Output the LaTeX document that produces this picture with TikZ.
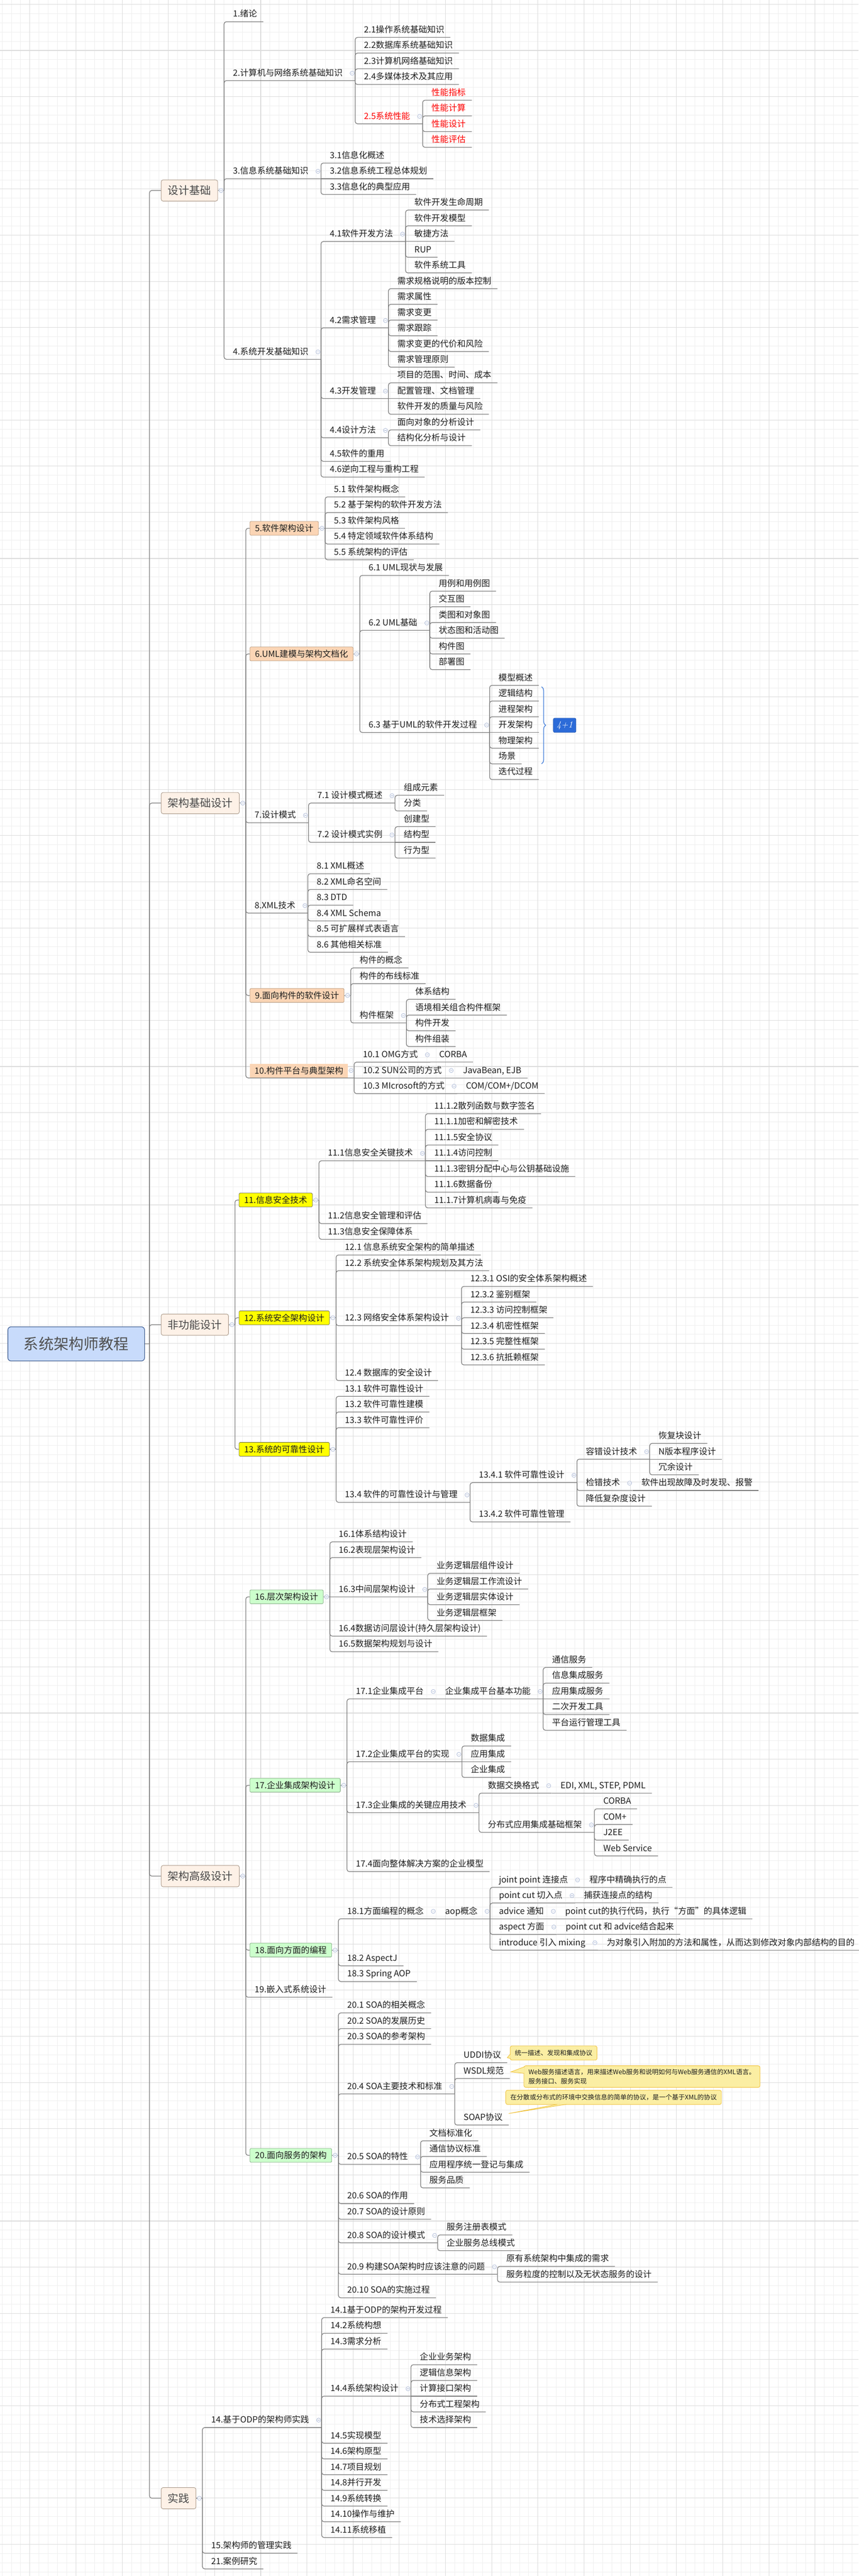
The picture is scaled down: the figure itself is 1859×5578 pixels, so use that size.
\documentclass[tikz,border=0pt]{standalone}
\usepackage{fontspec}
\newfontfamily\cjk{Noto Sans CJK SC}
\usetikzlibrary{calc,decorations.pathreplacing}
\definecolor{lnc}{HTML}{7D7D7D}
\definecolor{txc}{HTML}{1E1E1E}
\definecolor{gmn}{HTML}{EFEFEF}
\definecolor{gmj}{HTML}{DCDCDC}
\definecolor{rtf}{HTML}{C8DBFB}
\definecolor{rtd}{HTML}{33548C}
\definecolor{rtt}{HTML}{505050}
\definecolor{l1f}{HTML}{FDF1E7}
\definecolor{l1d}{HTML}{A89686}
\definecolor{l1t}{HTML}{4A4A4A}
\definecolor{pcf}{HTML}{FBD5B5}
\definecolor{pcd}{HTML}{B7987C}
\definecolor{ylf}{HTML}{FFFF00}
\definecolor{yld}{HTML}{6E6E50}
\definecolor{gnf}{HTML}{CCFFCC}
\definecolor{gnd}{HTML}{80A880}
\definecolor{ntf}{HTML}{FBEEA3}
\definecolor{ntd}{HTML}{F0C23E}
\definecolor{blf}{HTML}{2C6BD8}
\definecolor{brc}{HTML}{3A78D8}
\definecolor{cic}{HTML}{A6B4D3}
\definecolor{redt}{HTML}{FF0000}
\tikzset{
 cn/.style={draw=lnc, line width=1.4pt, rounded corners=5pt},
 tp/.style={anchor=south west, inner xsep=0pt, inner ysep=0pt, text height=15pt, text depth=10pt,
   font=\cjk\fontsize{18.5}{22}\selectfont, text=txc, execute at begin node={\hspace*{19pt}}},
 lf/.style={tp, execute at end node={\hspace*{13pt}}},
 pr/.style={tp, execute at end node={\hspace*{27pt}}},
 rt/.style={draw=rtd, fill=rtf, line width=1.2pt, rounded corners=7pt, minimum width=296pt, minimum height=74pt,
   font=\cjk\fontsize{32.5}{36}\selectfont, text=rtt},
 l1/.style={draw=l1d, fill=l1f, line width=1pt, rounded corners=4pt, inner xsep=14pt, minimum height=46pt,
   font=\cjk\fontsize{23.5}{26}\selectfont, text=l1t},
 bxs/.style={line width=0.9pt, rounded corners=2pt, inner xsep=11pt, inner ysep=0pt, minimum height=30pt,
   font=\cjk\fontsize{18.5}{22}\selectfont, text=txc},
 pch/.style={bxs, fill=pcf, draw=pcd},
 yel/.style={bxs, fill=ylf, draw=yld},
 grn/.style={bxs, fill=gnf, draw=gnd},
 pcn/.style={bxs, fill=pcf, rounded corners=0pt, inner xsep=10pt},
 ccl/.style={draw=cic, fill=white, line width=0.8pt},
 nt/.style={fill=ntf, draw=ntd, line width=1pt, rounded corners=4pt, inner xsep=10pt, inner ysep=7pt,
   minimum height=31pt, font=\cjk\fontsize{14}{20}\selectfont, text=txc, align=left},
 fbx/.style={fill=blf, draw=blf!80!black, line width=0.8pt, rounded corners=3pt, minimum width=49pt,
   minimum height=31pt, text=white, font=\rmfamily\itshape\fontsize{20}{22}\selectfont},
 gline/.style={draw=gmn, line width=1pt},
 gmaj/.style={draw=gmj, line width=1.2pt}
}
\newcommand\Tc[5][lf]{\node[#1] (#2) at (#3 |- 0,#4) {#5};\draw[cn] (#3) |- (#2.south east);}
\newcommand\Ts[4][lf]{\node[#1] (#2) at (#3) {#4};\draw[cn] (#3) -- (#2.south east);}
\newcommand\Cu[1]{\draw[ccl] ($(#1.south east)+(-6.5,-16)$) circle[radius=4.5pt] ++(-2.6,0) -- ++(5.2,0);}
\newcommand\Cb[1]{\draw[ccl] ($(#1.east)+(7,0)$) circle[radius=4.5pt] ++(-2.6,0) -- ++(5.2,0);}
\newcommand\Lo[3]{\path (jR |- 0,#2) ++(25,0) node[l1,anchor=west] (#1) {#3};
  \draw[cn] (jR) |- (#1.west);\path (#1.east) ++(13.5,0) coordinate (j#1);\draw[cn] (#1.east) -- (j#1);\Cb{#1}}
\newcommand\Bx[5]{\path (#3 |- 0,#4) ++(8.5,0) node[#1,anchor=west] (#2) {#5};
  \draw[cn] (#3) |- (#2.west);\path (#2.east) ++(14,0) coordinate (j#2);\draw[cn] (#2.east) -- (j#2);\Cb{#2}}
\newcommand\Wg[3]{\fill[ntf] #1 -- #2 -- #3 -- cycle;\draw[ntd,line width=1pt] #1 -- #2 -- #3;}
\begin{document}
\begin{tikzpicture}[x=1pt,y=-1pt]
\useasboundingbox (0,0) rectangle (1859,5578);
\fill[white] (0,0) rectangle (1859,5578);
\foreach \x in {4.5,24.5,...,1859} {\draw[gline] (\x,0) -- (\x,5578);}
\foreach \y in {9.3,29.3,...,5578} {\draw[gline] (0,\y) -- (1859,\y);}
\foreach \x in {64.5,164.5,...,1859} {\draw[gmaj] (\x,0) -- (\x,5578);}
\foreach \y in {9.3,109.3,...,5578} {\draw[gmaj] (0,\y) -- (1859,\y);}

% root
\node[rt] (R) at (165,2910) {系统架构师教程};
\path (R.east) ++(10,0) coordinate (jR);
\draw[cn] (R.east) -- (jR);

% ===== 设计基础 =====
\Lo{A}{412.5}{设计基础}
\Tc{a1}{jA}{47}{1.绪论}
\Tc[pr]{a2}{jA}{174.5}{2.计算机与网络系统基础知识}\Cu{a2}
\Tc{a21}{a2.south east}{81}{2.1操作系统基础知识}
\Tc{a22}{a2.south east}{115}{2.2数据库系统基础知识}
\Tc{a23}{a2.south east}{149}{2.3计算机网络基础知识}
\Tc{a24}{a2.south east}{183}{2.4多媒体技术及其应用}
\Tc[pr,text=redt]{a25}{a2.south east}{268}{2.5系统性能}\Cu{a25}
\Tc[lf,text=redt]{a251}{a25.south east}{217}{性能指标}
\Tc[lf,text=redt]{a252}{a25.south east}{251}{性能计算}
\Tc[lf,text=redt]{a253}{a25.south east}{285}{性能设计}
\Tc[lf,text=redt]{a254}{a25.south east}{319}{性能评估}
\Tc[pr]{a3}{jA}{387}{3.信息系统基础知识}\Cu{a3}
\Tc{a31}{a3.south east}{353}{3.1信息化概述}
\Ts{a32}{a3.south east}{3.2信息系统工程总体规划}
\Tc{a33}{a3.south east}{421}{3.3信息化的典型应用}
\Tc[pr]{a4}{jA}{778}{4.系统开发基础知识}\Cu{a4}
\Tc[pr]{a41}{a4.south east}{523}{4.1软件开发方法}\Cu{a41}
\Tc{a411}{a41.south east}{455}{软件开发生命周期}
\Tc{a412}{a41.south east}{489}{软件开发模型}
\Ts{a413}{a41.south east}{敏捷方法}
\Tc{a414}{a41.south east}{557}{RUP}
\Tc{a415}{a41.south east}{591}{软件系统工具}
\Tc[pr]{a42}{a4.south east}{710}{4.2需求管理}\Cu{a42}
\Tc{a421}{a42.south east}{625}{需求规格说明的版本控制}
\Tc{a422}{a42.south east}{659}{需求属性}
\Tc{a423}{a42.south east}{693}{需求变更}
\Tc{a424}{a42.south east}{727}{需求跟踪}
\Tc{a425}{a42.south east}{761}{需求变更的代价和风险}
\Tc{a426}{a42.south east}{795}{需求管理原则}
\Tc[pr]{a43}{a4.south east}{863}{4.3开发管理}\Cu{a43}
\Tc{a431}{a43.south east}{829}{项目的范围、时间、成本}
\Ts{a432}{a43.south east}{配置管理、文档管理}
\Tc{a433}{a43.south east}{897}{软件开发的质量与风险}
\Tc[pr]{a44}{a4.south east}{948}{4.4设计方法}\Cu{a44}
\Tc{a441}{a44.south east}{931}{面向对象的分析设计}
\Tc{a442}{a44.south east}{965}{结构化分析与设计}
\Tc{a45}{a4.south east}{999}{4.5软件的重用}
\Tc{a46}{a4.south east}{1033}{4.6逆向工程与重构工程}

% ===== 架构基础设计 =====
\Lo{B}{1739}{架构基础设计}
\Bx{pch}{B5}{jB}{1144}{5.软件架构设计}
\Tc{b51}{jB5}{1076}{5.1 软件架构概念}
\Tc{b52}{jB5}{1110}{5.2 基于架构的软件开发方法}
\Ts{b53}{jB5}{5.3 软件架构风格}
\Tc{b54}{jB5}{1178}{5.4 特定领域软件体系结构}
\Tc{b55}{jB5}{1212}{5.5 系统架构的评估}
\Bx{pch}{B6}{jB}{1416}{6.UML建模与架构文档化}
\Tc{b61}{jB6}{1246}{6.1 UML现状与发展}
\Tc[pr]{b62}{jB6}{1365}{6.2 UML基础}\Cu{b62}
\Tc{b621}{b62.south east}{1280}{用例和用例图}
\Tc{b622}{b62.south east}{1314}{交互图}
\Tc{b623}{b62.south east}{1348}{类图和对象图}
\Tc{b624}{b62.south east}{1382}{状态图和活动图}
\Tc{b625}{b62.south east}{1416}{构件图}
\Tc{b626}{b62.south east}{1450}{部署图}
\Tc[pr]{b63}{jB6}{1586}{6.3 基于UML的软件开发过程}\Cu{b63}
\Tc{b631}{b63.south east}{1484}{模型概述}
\Tc{b632}{b63.south east}{1518}{逻辑结构}
\Tc{b633}{b63.south east}{1552}{进程架构}
\Ts{b634}{b63.south east}{开发架构}
\Tc{b635}{b63.south east}{1620}{物理架构}
\Tc{b636}{b63.south east}{1654}{场景}
\Tc{b637}{b63.south east}{1688}{迭代过程}
\coordinate (brT) at ($(b632.south east)+(6,-31)$);
\coordinate (brB) at (brT |- b636.south east);
\draw[brc, line width=1.4pt, decorate, decoration={brace, amplitude=9pt}] (brT) -- (brB);
\node[fbx] (F41) at ($(brT)!0.5!(brB)+(50,0)$) {4+1};
\Tc[pr]{b7}{jB}{1781.5}{7.设计模式}\Cu{b7}
\Tc[pr]{b71}{b7.south east}{1739}{7.1 设计模式概述}\Cu{b71}
\Tc{b711}{b71.south east}{1722}{组成元素}
\Tc{b712}{b71.south east}{1756}{分类}
\Tc[pr]{b72}{b7.south east}{1824}{7.2 设计模式实例}\Cu{b72}
\Tc{b721}{b72.south east}{1790}{创建型}
\Ts{b722}{b72.south east}{结构型}
\Tc{b723}{b72.south east}{1858}{行为型}
\Tc[pr]{b8}{jB}{1977}{8.XML技术}\Cu{b8}
\Tc{b81}{b8.south east}{1892}{8.1 XML概述}
\Tc{b82}{b8.south east}{1926}{8.2 XML命名空间}
\Tc{b83}{b8.south east}{1960}{8.3 DTD}
\Tc{b84}{b8.south east}{1994}{8.4 XML Schema}
\Tc{b85}{b8.south east}{2028}{8.5 可扩展样式表语言}
\Tc{b86}{b8.south east}{2062}{8.6 其他相关标准}
\Bx{pch}{B9}{jB}{2155.5}{9.面向构件的软件设计}
\Tc{b91}{jB9}{2096}{构件的概念}
\Tc{b92}{jB9}{2130}{构件的布线标准}
\Tc[pr]{b93}{jB9}{2215}{构件框架}\Cu{b93}
\Tc{b931}{b93.south east}{2164}{体系结构}
\Tc{b932}{b93.south east}{2198}{语境相关组合构件框架}
\Tc{b933}{b93.south east}{2232}{构件开发}
\Tc{b934}{b93.south east}{2266}{构件组装}
\path (jB |- 0,2334) ++(8.5,0) node[pcn,anchor=south west] (B10) {10.构件平台与典型架构};
\path (B10.south east) ++(13,0) coordinate (jB10);
\draw[cn] (jB) |- (jB10);
\draw[ccl] ($(jB10)+(-6.5,-16)$) circle[radius=4.5pt] ++(-2.6,0) -- ++(5.2,0);
\Tc[pr]{b101}{jB10}{2300}{10.1 OMG方式}\Cu{b101}
\Ts{b1011}{b101.south east}{CORBA}
\Ts[pr]{b102}{jB10}{10.2 SUN公司的方式}\Cu{b102}
\Ts{b1021}{b102.south east}{JavaBean, EJB}
\Tc[pr]{b103}{jB10}{2368}{10.3 MIcrosoft的方式}\Cu{b103}
\Ts{b1031}{b103.south east}{COM/COM+/DCOM}

% ===== 非功能设计 =====
\Lo{C}{2868.4}{非功能设计}
\Bx{yel}{C11}{jC}{2598.5}{11.信息安全技术}
\Tc[pr]{c111}{jC11}{2513.5}{11.1信息安全关键技术}\Cu{c111}
\Tc{c1112}{c111.south east}{2411.5}{11.1.2散列函数与数字签名}
\Tc{c1111}{c111.south east}{2445.5}{11.1.1加密和解密技术}
\Tc{c1115}{c111.south east}{2479.5}{11.1.5安全协议}
\Ts{c1114}{c111.south east}{11.1.4访问控制}
\Tc{c1113}{c111.south east}{2547.5}{11.1.3密钥分配中心与公钥基础设施}
\Tc{c1116}{c111.south east}{2581.5}{11.1.6数据备份}
\Tc{c1117}{c111.south east}{2615.5}{11.1.7计算机病毒与免疫}
\Tc{c112}{jC11}{2649.5}{11.2信息安全管理和评估}
\Tc{c113}{jC11}{2683.5}{11.3信息安全保障体系}
\Bx{yel}{C12}{jC}{2853.5}{12.系统安全架构设计}
\Tc{c121}{jC12}{2717.5}{12.1 信息系统安全架构的简单描述}
\Tc{c122}{jC12}{2751.5}{12.2 系统安全体系架构规划及其方法}
\Tc[pr]{c123}{jC12}{2870.5}{12.3 网络安全体系架构设计}\Cu{c123}
\Tc{c1231}{c123.south east}{2785.5}{12.3.1 OSI的安全体系架构概述}
\Tc{c1232}{c123.south east}{2819.5}{12.3.2 鉴别框架}
\Tc{c1233}{c123.south east}{2853.5}{12.3.3 访问控制框架}
\Tc{c1234}{c123.south east}{2887.5}{12.3.4 机密性框架}
\Tc{c1235}{c123.south east}{2921.5}{12.3.5 完整性框架}
\Tc{c1236}{c123.south east}{2955.5}{12.3.6 抗抵赖框架}
\Tc{c124}{jC12}{2989.5}{12.4 数据库的安全设计}
\Bx{yel}{C13}{jC}{3138.25}{13.系统的可靠性设计}
\Tc{c131}{jC13}{3023.5}{13.1 软件可靠性设计}
\Tc{c132}{jC13}{3057.5}{13.2 软件可靠性建模}
\Tc{c133}{jC13}{3091.5}{13.3 软件可靠性评价}
\Tc[pr]{c134}{jC13}{3253}{13.4 软件的可靠性设计与管理}\Cu{c134}
\Tc[pr]{c1341}{c134.south east}{3210.5}{13.4.1 软件可靠性设计}\Cu{c1341}
\Tc[pr]{cr1}{c1341.south east}{3159.5}{容错设计技术}\Cu{cr1}
\Tc{cr11}{cr1.south east}{3125.5}{恢复块设计}
\Ts{cr12}{cr1.south east}{N版本程序设计}
\Tc{cr13}{cr1.south east}{3193.5}{冗余设计}
\Tc[pr]{cr2}{c1341.south east}{3227.5}{检错技术}\Cu{cr2}
\Ts{cr21}{cr2.south east}{软件出现故障及时发现、报警}
\Tc{cr3}{c1341.south east}{3261.5}{降低复杂度设计}
\Tc{c1342}{c134.south east}{3295.5}{13.4.2 软件可靠性管理}

% ===== 架构高级设计 =====
\Lo{D}{4062.4}{架构高级设计}
\Bx{grn}{D16}{jD}{3457.7}{16.层次架构设计}
\Tc{d161}{jD16}{3338.7}{16.1体系结构设计}
\Tc{d162}{jD16}{3372.7}{16.2表现层架构设计}
\Ts[pr]{d163}{jD16}{16.3中间层架构设计}\Cu{d163}
\Tc{d1631}{d163.south east}{3406.7}{业务逻辑层组件设计}
\Tc{d1632}{d163.south east}{3440.7}{业务逻辑层工作流设计}
\Tc{d1633}{d163.south east}{3474.7}{业务逻辑层实体设计}
\Tc{d1634}{d163.south east}{3508.7}{业务逻辑层框架}
\Tc{d164}{jD16}{3542.7}{16.4数据访问层设计(持久层架构设计)}
\Tc{d165}{jD16}{3576.7}{16.5数据架构规划与设计}
\Bx{grn}{D17}{jD}{3865.7}{17.企业集成架构设计}
\Tc[pr]{d171}{jD17}{3678.7}{17.1企业集成平台}\Cu{d171}
\Ts[pr]{d1711}{d171.south east}{企业集成平台基本功能}\Cu{d1711}
\Tc{d17111}{d1711.south east}{3610.7}{通信服务}
\Tc{d17112}{d1711.south east}{3644.7}{信息集成服务}
\Ts{d17113}{d1711.south east}{应用集成服务}
\Tc{d17114}{d1711.south east}{3712.7}{二次开发工具}
\Tc{d17115}{d1711.south east}{3746.7}{平台运行管理工具}
\Tc[pr]{d172}{jD17}{3814.7}{17.2企业集成平台的实现}\Cu{d172}
\Tc{d1721}{d172.south east}{3780.7}{数据集成}
\Ts{d1722}{d172.south east}{应用集成}
\Tc{d1723}{d172.south east}{3848.7}{企业集成}
\Tc[pr]{d173}{jD17}{3925.2}{17.3企业集成的关键应用技术}\Cu{d173}
\Tc[pr]{d1731}{d173.south east}{3882.7}{数据交换格式}\Cu{d1731}
\Ts{d17311}{d1731.south east}{EDI, XML, STEP, PDML}
\Tc[pr]{d1732}{d173.south east}{3967.7}{分布式应用集成基础框架}\Cu{d1732}
\Tc{d17321}{d1732.south east}{3916.7}{CORBA}
\Tc{d17322}{d1732.south east}{3950.7}{COM+}
\Tc{d17323}{d1732.south east}{3984.7}{J2EE}
\Tc{d17324}{d1732.south east}{4018.7}{Web Service}
\Tc{d174}{jD17}{4052.7}{17.4面向整体解决方案的企业模型}
\Bx{grn}{D18}{jD}{4222.7}{18.面向方面的编程}
\Tc[pr]{d181}{jD18}{4154.7}{18.1方面编程的概念}\Cu{d181}
\Ts[pr]{d1811}{d181.south east}{aop概念}\Cu{d1811}
\Tc[pr]{da1}{d1811.south east}{4086.7}{joint point 连接点}\Cu{da1}
\Ts{da11}{da1.south east}{程序中精确执行的点}
\Tc[pr]{da2}{d1811.south east}{4120.7}{point cut 切入点}\Cu{da2}
\Ts{da21}{da2.south east}{捕获连接点的结构}
\Ts[pr]{da3}{d1811.south east}{advice 通知}\Cu{da3}
\Ts{da31}{da3.south east}{point cut的执行代码，执行“方面”的具体逻辑}
\Tc[pr]{da4}{d1811.south east}{4188.7}{aspect 方面}\Cu{da4}
\Ts{da41}{da4.south east}{point cut 和 advice结合起来}
\Tc[pr]{da5}{d1811.south east}{4222.7}{introduce 引入 mixing}\Cu{da5}
\Ts{da51}{da5.south east}{为对象引入附加的方法和属性，从而达到修改对象内部结构的目的}
\Tc{d182}{jD18}{4256.7}{18.2 AspectJ}
\Tc{d183}{jD18}{4290.7}{18.3 Spring AOP}
\Tc{d19}{jD}{4324.7}{19.嵌入式系统设计}
\Bx{grn}{D20}{jD}{4667.1}{20.面向服务的架构}
\Tc{d201}{jD20}{4358.7}{20.1 SOA的相关概念}
\Tc{d202}{jD20}{4392.7}{20.2 SOA的发展历史}
\Tc{d203}{jD20}{4426.7}{20.3 SOA的参考架构}
\Tc[pr]{d204}{jD20}{4534}{20.4 SOA主要技术和标准}\Cu{d204}
\Tc{d2041}{d204.south east}{4466.5}{UDDI协议}
\Tc{d2042}{d204.south east}{4500.5}{WSDL规范}
\Tc{d2043}{d204.south east}{4601.5}{SOAP协议}
\node[nt,anchor=west] (nU) at ($(d2041.south east)+(6,-21)$) {统一描述、发现和集成协议};
\Wg{($(nU.south west)+(1,-14)$)}{($(d2041.south east)+(0,-11)$)}{($(nU.south west)+(1,-4)$)}
\node[nt,anchor=west] (nW) at ($(d2042.south east)+(30,-4)$) {Web服务描述语言，用来描述Web服务和说明如何与Web服务通信的XML语言。\\服务接口、服务实现};
\Wg{($(nW.north west)+(1,3)$)}{($(d2042.south east)+(2,-14)$)}{($(nW.north west)+(1,17)$)}
\node[nt,anchor=west] (nS) at ($(d2043.south east)+(-7,-60)$) {在分散或分布式的环境中交换信息的简单的协议，是一个基于XML的协议};
\Wg{($(nS.south west)+(112,-1)$)}{($(d2043.south east)+(0,-25)$)}{($(nS.south west)+(132,-1)$)}
\Tc[pr]{d205}{jD20}{4686.5}{20.5 SOA的特性}\Cu{d205}
\Tc{d2051}{d205.south east}{4635.5}{文档标准化}
\Tc{d2052}{d205.south east}{4669.5}{通信协议标准}
\Tc{d2053}{d205.south east}{4703.5}{应用程序统一登记与集成}
\Tc{d2054}{d205.south east}{4737.5}{服务品质}
\Tc{d206}{jD20}{4771.5}{20.6 SOA的作用}
\Tc{d207}{jD20}{4805.5}{20.7 SOA的设计原则}
\Tc[pr]{d208}{jD20}{4856.5}{20.8 SOA的设计模式}\Cu{d208}
\Tc{d2081}{d208.south east}{4839.5}{服务注册表模式}
\Tc{d2082}{d208.south east}{4873.5}{企业服务总线模式}
\Tc[pr]{d209}{jD20}{4924.5}{20.9 构建SOA架构时应该注意的问题}\Cu{d209}
\Tc{d2091}{d209.south east}{4907.5}{原有系统架构中集成的需求}
\Tc{d2092}{d209.south east}{4941.5}{服务粒度的控制以及无状态服务的设计}
\Tc{d2010}{jD20}{4975.5}{20.10 SOA的实施过程}

% ===== 实践 =====
\Lo{E}{5409.5}{实践}
\Tc[pr]{e14}{jE}{5256.5}{14.基于ODP的架构师实践}\Cu{e14}
\Tc{e141}{e14.south east}{5018.5}{14.1基于ODP的架构开发过程}
\Tc{e142}{e14.south east}{5052.5}{14.2系统构想}
\Tc{e143}{e14.south east}{5086.5}{14.3需求分析}
\Tc[pr]{e144}{e14.south east}{5188.5}{14.4系统架构设计}\Cu{e144}
\Tc{e1441}{e144.south east}{5120.5}{企业业务架构}
\Tc{e1442}{e144.south east}{5154.5}{逻辑信息架构}
\Ts{e1443}{e144.south east}{计算接口架构}
\Tc{e1444}{e144.south east}{5222.5}{分布式工程架构}
\Tc{e1445}{e144.south east}{5256.5}{技术选择架构}
\Tc{e145}{e14.south east}{5290.5}{14.5实现模型}
\Tc{e146}{e14.south east}{5324.5}{14.6架构原型}
\Tc{e147}{e14.south east}{5358.5}{14.7项目规划}
\Tc{e148}{e14.south east}{5392.5}{14.8并行开发}
\Tc{e149}{e14.south east}{5426.5}{14.9系统转换}
\Tc{e1410}{e14.south east}{5460.5}{14.10操作与维护}
\Tc{e1411}{e14.south east}{5494.5}{14.11系统移植}
\Tc{e15}{jE}{5528.5}{15.架构师的管理实践}
\Tc{e21}{jE}{5562.5}{21.案例研究}
\end{tikzpicture}
\end{document}
